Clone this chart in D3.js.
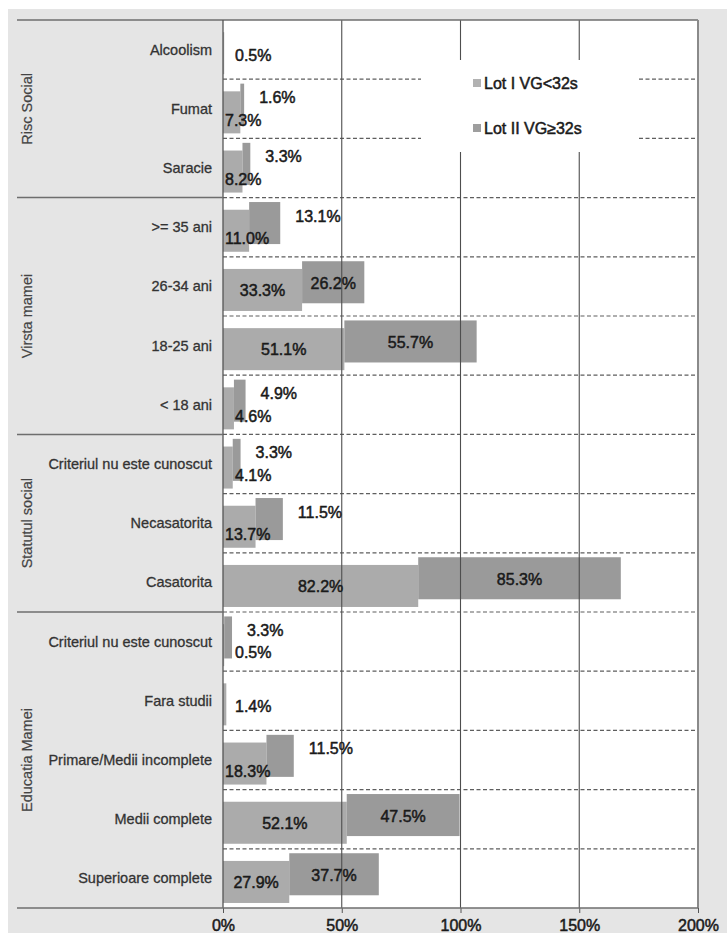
<!DOCTYPE html>
<html>
<head>
<meta charset="utf-8">
<script src="https://cdn.jsdelivr.net/npm/d3@7"></script>
<style>
  html, body { margin: 0; padding: 0; background: #ffffff; }
  svg { display: block; font-family: "Liberation Sans", Arial, sans-serif; }
</style>
</head>
<body>
<svg id="chart" width="727" height="933"></svg>
<script>
// Categories, top to bottom, and the group each block of rows belongs to
const categories = [
  "Alcoolism", "Fumat", "Saracie",
  ">= 35 ani", "26-34 ani", "18-25 ani", "< 18 ani",
  "Criteriul nu este cunoscut#1", "Necasatorita", "Casatorita",
  "Criteriul nu este cunoscut#2", "Fara studii", "Primare/Medii incomplete",
  "Medii complete", "Superioare complete"
];
const groupNames = ["Risc Social", "Virsta mamei", "Statutul social", "Educatia Mamei"];
const groupSizes = [3, 4, 3, 5];

// Percentages per lot
const seriesNames = ["Lot I VG<32s", "Lot II VG\u226532s"];
const lot1 = [0.5, 7.3, 8.2, 11.0, 33.3, 51.1, 4.6, 4.1, 13.7, 82.2, 0.5, 1.4, 18.3, 52.1, 27.9];
const lot2 = [0, 1.6, 3.3, 13.1, 26.2, 55.7, 4.9, 3.3, 11.5, 85.3, 3.3, 0, 11.5, 47.5, 37.7];

const xTicks = [0, 50, 100, 150, 200];

const svg = d3.select("#chart");
const W = 727, H = 933;
const plot = { left: 223, right: 698, top: 20, bottom: 908 };
const panelLeft = 17;
const colors = ["#ababab", "#9a9a9a"];
const legendColors = ["#b2b2b2", "#9e9e9e"];
const ink = "#1a1a1a";

const x = d3.scaleLinear().domain([0, 200]).range([plot.left, plot.right]);
const y = d3.scaleBand().domain(categories).range([plot.top, plot.bottom]);
const bw = y.bandwidth();
const label = c => c.replace(/#\d+$/, "");

// slightly heavier text strokes
const heavy = (sel, color, w) => sel.attr("stroke", color).attr("stroke-width", w).attr("paint-order", "stroke");

// background
svg.append("rect").attr("x", 8).attr("y", 9).attr("width", W - 8).attr("height", H - 9).attr("fill", "#e5e5e5");
svg.append("rect").attr("x", plot.left).attr("y", plot.top)
  .attr("width", plot.right - plot.left).attr("height", plot.bottom - plot.top).attr("fill", "#ffffff");

// dashed row separators inside the plot
const boundaries = categories.slice(1).map(c => y(c));
svg.append("g").selectAll("line").data(boundaries).join("line")
  .attr("x1", plot.left).attr("x2", plot.right)
  .attr("y1", d => d).attr("y2", d => d)
  .attr("stroke", "#5e5e5e").attr("stroke-width", 1.2).attr("stroke-dasharray", "4,2.5");

// bars: Lot I from 0, Lot II stacked after it, slightly raised
const barH = bw * 0.71;
const off1 = bw * 0.06, off2 = -bw * 0.07;
const rows = categories.map((c, i) => ({ c, v1: lot1[i], v2: lot2[i] }));
const yc = c => y(c) + bw / 2;

svg.append("g").selectAll("rect").data(rows).join("rect")
  .attr("x", d => x(0))
  .attr("y", d => yc(d.c) + off1 - barH / 2)
  .attr("width", d => x(d.v1) - x(0))
  .attr("height", barH)
  .attr("fill", colors[0]);

svg.append("g").selectAll("rect").data(rows.filter(d => d.v2 > 0)).join("rect")
  .attr("x", d => x(d.v1))
  .attr("y", d => yc(d.c) + off2 - barH / 2)
  .attr("width", d => x(d.v1 + d.v2) - x(d.v1))
  .attr("height", barH)
  .attr("fill", colors[1]);

// vertical gridlines, drawn over the bars
svg.append("g").selectAll("line").data(xTicks.slice(1, -1)).join("line")
  .attr("x1", d => x(d)).attr("x2", d => x(d))
  .attr("y1", plot.top).attr("y2", plot.bottom)
  .attr("stroke", "#4e4e4e").attr("stroke-width", 1.1);

// legend box
const lg = svg.append("g");
lg.append("rect").attr("x", 421).attr("y", 60).attr("width", 216).attr("height", 92).attr("fill", "#ffffff");
seriesNames.forEach((s, i) => {
  const ly = 83 + i * 45;
  lg.append("rect").attr("x", 473).attr("y", ly - 4).attr("width", 8).attr("height", 8).attr("fill", legendColors[i]);
  heavy(lg.append("text").attr("x", 484).attr("y", ly).attr("dy", "0.35em")
    .attr("font-size", 16).attr("fill", ink).text(s), ink, 0.5);
});

// frame lines
svg.append("line").attr("x1", panelLeft).attr("x2", plot.right).attr("y1", plot.top).attr("y2", plot.top)
  .attr("stroke", "#6e6e6e").attr("stroke-width", 1.5);
svg.append("line").attr("x1", plot.right).attr("x2", plot.right).attr("y1", plot.top).attr("y2", plot.bottom)
  .attr("stroke", "#8a8a8a").attr("stroke-width", 2);
svg.append("line").attr("x1", plot.left).attr("x2", plot.left).attr("y1", plot.top).attr("y2", plot.bottom)
  .attr("stroke", "#555555").attr("stroke-width", 1.3);

// group separators in the label panel
let acc = 0;
const groupStarts = groupSizes.map(n => { const s = acc; acc += n; return s; });
groupStarts.slice(1).forEach(s => {
  const gy = y(categories[s]);
  svg.append("line").attr("x1", panelLeft).attr("x2", plot.left).attr("y1", gy).attr("y2", gy)
    .attr("stroke", "#6e6e6e").attr("stroke-width", 1.5);
});

// category labels
heavy(svg.append("g").selectAll("text").data(categories).join("text")
  .attr("x", 212).attr("y", d => yc(d)).attr("dy", "0.35em")
  .attr("text-anchor", "end").attr("font-size", 14.5).attr("fill", "#333333")
  .text(d => label(d)), "#333333", 0.3);

// group titles (rotated)
groupNames.forEach((g, i) => {
  const first = categories[groupStarts[i]];
  const last = categories[groupStarts[i] + groupSizes[i] - 1];
  const cy = (y(first) + y(last) + bw) / 2;
  heavy(svg.append("text").attr("transform", `translate(27,${cy}) rotate(-90)`)
    .attr("text-anchor", "middle").attr("dy", "0.35em")
    .attr("font-size", 14.5).attr("fill", "#444444").text(g), "#444444", 0.2);
});

// x axis
const axis = d3.axisBottom(x).tickValues(xTicks).tickFormat(d => d + "%").tickSize(5).tickPadding(7);
const ax = svg.append("g").attr("transform", `translate(0,${plot.bottom})`).call(axis);
ax.select(".domain").remove();
ax.selectAll(".tick line").attr("stroke", "#555555");
heavy(ax.selectAll(".tick text").attr("font-size", 16).attr("fill", ink)
  .attr("font-family", "'Liberation Sans', Arial, sans-serif"), ink, 0.5);
svg.append("line").attr("x1", panelLeft).attr("x2", plot.right).attr("y1", plot.bottom).attr("y2", plot.bottom)
  .attr("stroke", "#6e6e6e").attr("stroke-width", 1.5);

// value labels: centred inside the segment when it fits, otherwise set beside it
const fmt = v => v.toFixed(1) + "%";
const labels = svg.append("g").attr("font-size", 16).attr("fill", ink)
  .attr("stroke", ink).attr("stroke-width", 0.5);
rows.forEach(d => {
  if (d.v1 > 0) {
    const t = labels.append("text").text(fmt(d.v1)).attr("dy", "0.35em");
    const tw = t.node().getComputedTextLength();
    const w = x(d.v1) - x(0);
    if (w >= tw + 6) {
      t.attr("x", (x(0) + x(d.v1)) / 2).attr("text-anchor", "middle").attr("y", yc(d.c) + bw * 0.07);
    } else {
      const inset = d.v1 < 6 ? 12 : 2;
      t.attr("x", x(0) + inset).attr("y", yc(d.c) + (d.v2 > 0 ? bw * 0.19 : bw * 0.09));
    }
  }
  if (d.v2 > 0) {
    const t = labels.append("text").text(fmt(d.v2)).attr("dy", "0.35em");
    const tw = t.node().getComputedTextLength();
    const w = x(d.v1 + d.v2) - x(d.v1);
    if (w >= tw + 6) {
      t.attr("x", (x(d.v1) + x(d.v1 + d.v2)) / 2).attr("text-anchor", "middle").attr("y", yc(d.c) - bw * 0.05);
    } else {
      t.attr("x", x(d.v1 + d.v2) + 15).attr("y", yc(d.c) - bw * 0.19);
    }
  }
});
</script>
</body>
</html>
